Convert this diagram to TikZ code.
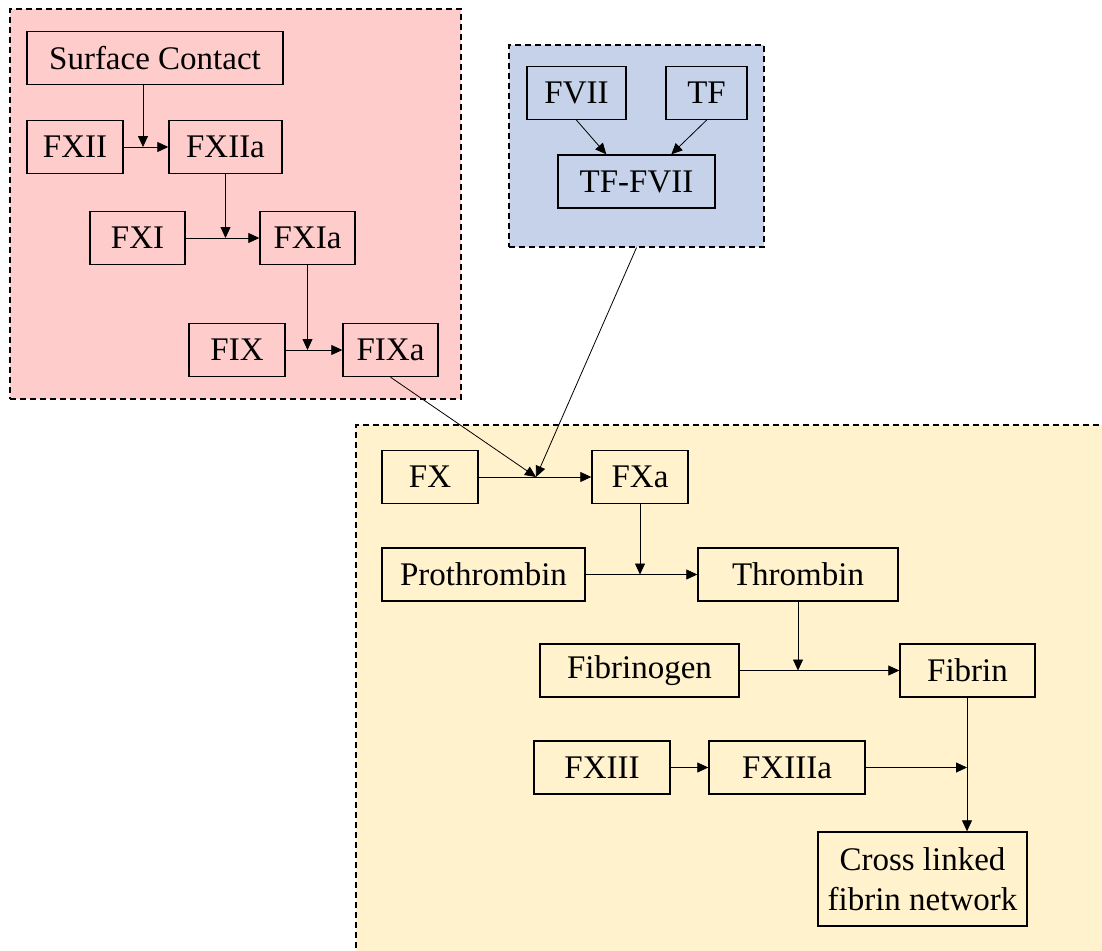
\documentclass[tikz,border=0pt]{standalone}
\usepackage{fontspec}
\setmainfont{Liberation Serif}
\usepackage{xcolor}
\usetikzlibrary{arrows.meta}
\definecolor{intrinsic}{RGB}{255,204,204}
\definecolor{extrinsic}{RGB}{197,210,234}
\definecolor{common}{RGB}{255,242,204}

\begin{document}
\begin{tikzpicture}[x=1pt,y=-1pt,>={Triangle[length=11pt,width=10pt]},
  factor/.style={draw,line width=1.4pt,inner sep=0pt,minimum height=53pt,font=\fontsize{33}{40}\selectfont},
  group/.style={draw,line width=1.2pt,dash pattern=on 6pt off 4pt,inner sep=0pt},
  link/.style={->,line width=0.8pt}]
  \useasboundingbox (0,0) rectangle (1102,950);

  % pathway boxes
  \node[group,fill=intrinsic,minimum width=451pt,minimum height=390pt] (intr) at (235.5,204) {};
  \node[group,fill=extrinsic,minimum width=255pt,minimum height=202pt] (extr) at (636.5,146) {};
  \node[group,fill=common,minimum width=764pt,minimum height=545pt] (comm) at (738,697.5) {};

  % intrinsic pathway
  \node[factor,minimum width=256pt] (sc)    at (155,58)    {Surface Contact};
  \node[factor,minimum width=96pt]  (fxii)  at (75,147)    {FXII};
  \node[factor,minimum width=113pt] (fxiia) at (225.5,147) {FXIIa};
  \node[factor,minimum width=95pt]  (fxi)   at (137.5,238) {FXI};
  \node[factor,minimum width=95pt]  (fxia)  at (307.5,238) {FXIa};
  \node[factor,minimum width=96pt]  (fix)   at (237,350)   {FIX};
  \node[factor,minimum width=95pt]  (fixa)  at (390.5,350) {FIXa};

  % extrinsic pathway
  \node[factor,minimum width=99pt]  (fvii)   at (576.5,93)   {FVII};
  \node[factor,minimum width=81pt]  (tf)     at (706.5,93)   {TF};
  \node[factor,minimum width=157pt] (tffvii) at (636.5,181.5) {TF-FVII};

  % common pathway
  \node[factor,minimum width=96pt]  (fx)     at (430,477)     {FX};
  \node[factor,minimum width=96pt]  (fxa)    at (640,477)     {FXa};
  \node[factor,minimum width=203pt] (proth)  at (483.5,574.5) {Prothrombin};
  \node[factor,minimum width=200pt] (thromb) at (798,574.5)   {Thrombin};
  \node[factor,minimum width=199pt] (fibgen) at (639.5,670.5) {Fibrinogen};
  \node[factor,minimum width=135pt] (fibrin) at (967.5,670.5) {Fibrin};
  \node[factor,minimum width=136pt] (fxiii)  at (602,767.5)   {FXIII};
  \node[factor,minimum width=156pt] (fxiiia) at (787,767.5)   {FXIIIa};
  \node[factor,minimum width=209pt,minimum height=94pt,align=center] (xlink) at (922.5,879)
    {Cross linked\\fibrin network};

  % junctions on the reaction lines
  \coordinate (j1) at (143,147);
  \coordinate (j2) at (fxiia.south |- fxia.west);
  \coordinate (j3) at (fxia.south |- fixa.west);
  \coordinate (j4) at (536,477);
  \coordinate (j5) at (fxa.south |- thromb.west);
  \coordinate (j6) at (thromb.south |- fibrin.west);
  \coordinate (j7) at (967,767.5);

  \path[link]
    (fxii) edge (fxiia)
    (sc.south -| j1) edge (j1)
    (fxi) edge (fxia)
    (fxiia.south) edge (j2)
    (fix) edge (fixa)
    (fxia.south) edge (j3)
    (fvii.south) edge (tffvii.138)
    (tf.south) edge (tffvii.38)
    (fx) edge (fxa)
    (fixa.south) edge (j4)
    (extr.south) edge (j4)
    (proth) edge (thromb)
    (fxa.south) edge (j5)
    (fibgen) edge (fibrin)
    (thromb.south) edge (j6)
    (fxiii) edge (fxiiia)
    (fxiiia.east) edge (j7)
    (j7 |- fibrin.south) edge (j7 |- xlink.north);
\end{tikzpicture}
\end{document}
